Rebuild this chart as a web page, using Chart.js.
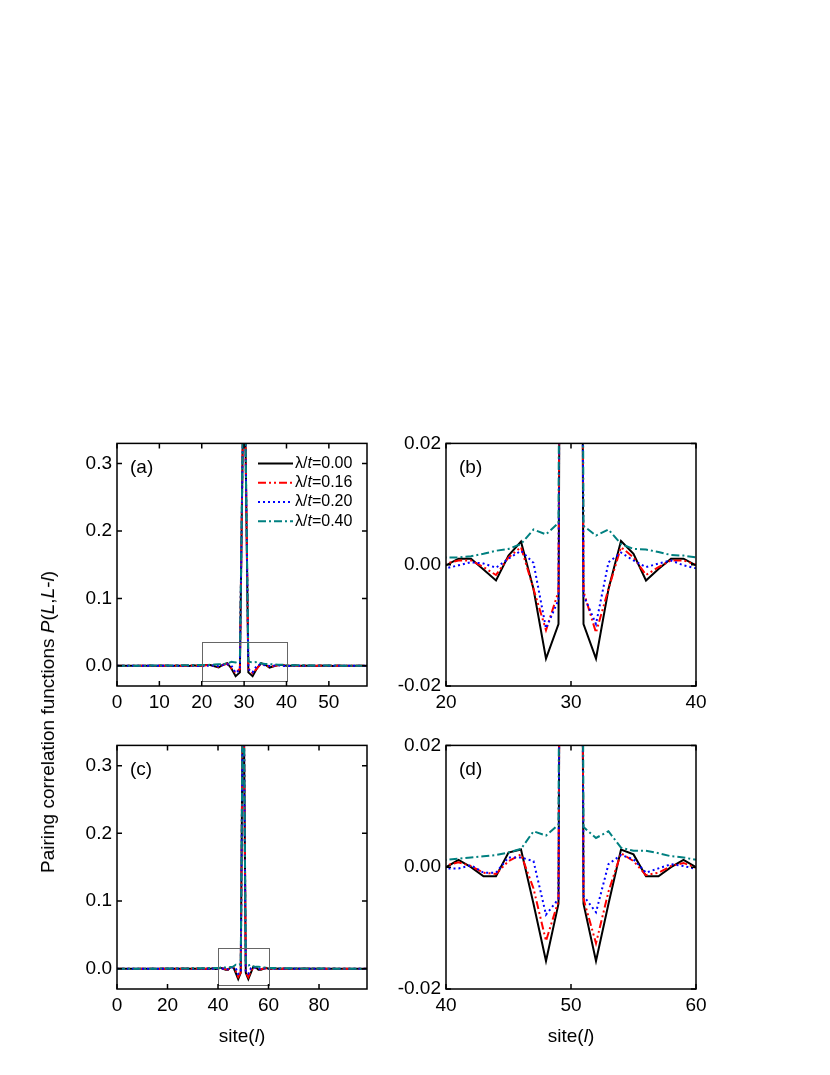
<!DOCTYPE html>
<html lang="en">
<head>
    <meta charset="UTF-8">
    <title>Pairing correlation functions</title>
    <script src="https://cdn.jsdelivr.net/npm/chart.js"></script>
    <style>
        body {
            margin: 0;
            width: 830px;
            height: 1075px;
            background: #fff;
            position: relative;
            overflow: hidden;
            font-family: "Liberation Sans", Arial, sans-serif;
            color: #000;
        }
        .panel { position: absolute; width: 340px; }
        .ytitle {
            position: absolute;
            left: 48px;
            top: 722px;
            font-size: 19px;
            white-space: nowrap;
            transform: translate(-50%, -50%) rotate(-90deg);
        }
        .xtitle {
            position: absolute;
            top: 1036px;
            font-size: 19px;
            white-space: nowrap;
            transform: translate(-50%, -50%);
        }
    </style>
</head>
<body>
    <div class="panel" style="left:47px; top:427px; height:299px;"><canvas id="chartA"></canvas></div>
    <div class="panel" style="left:376px; top:427px; height:299px;"><canvas id="chartB"></canvas></div>
    <div class="panel" style="left:47px; top:729px; height:300px;"><canvas id="chartC"></canvas></div>
    <div class="panel" style="left:376px; top:729px; height:300px;"><canvas id="chartD"></canvas></div>

    <div class="ytitle">Pairing correlation functions <i>P</i>(<i>L</i>,<i>L</i>-<i>l</i>)</div>
    <div class="xtitle" style="left:242px;">site(<i>l</i>)</div>
    <div class="xtitle" style="left:571px;">site(<i>l</i>)</div>

    <script>
        // legend labels (lambda/t values)
        const lambdas = ['0.00', '0.16', '0.20', '0.40'];

        // L = 60 chain, sites 0..59 (panels a, b)
        const black60 = [0.0002, 0.0001, 0.0002, 0.0000, 0.0002, -0.0001, 0.0002, 0.0000, 0.0003, -0.0002,
            0.0003, 0.0000, 0.0004, -0.0003, 0.0004, 0.0000, 0.0005, -0.0004, 0.0006, 0.0001,
            -0.0001, 0.0010, 0.0010, -0.0008, -0.0026, 0.0015, 0.0038, -0.0040, -0.0155, -0.0098,
            0.5, -0.0098, -0.0155, -0.0040, 0.0039, 0.0018, -0.0026, -0.0007, 0.0010, 0.0010,
            -0.0001, 0.0001, 0.0006, -0.0004, 0.0005, 0.0000, 0.0004, -0.0003, 0.0004, 0.0000,
            0.0003, -0.0002, 0.0003, 0.0000, 0.0002, -0.0001, 0.0002, 0.0000, 0.0002, 0.0001];
        const red60 = [0.0001, 0.0001, 0.0001, 0.0000, 0.0001, 0.0000, 0.0002, -0.0001, 0.0002, 0.0000,
            0.0002, -0.0001, 0.0003, -0.0001, 0.0003, 0.0000, 0.0004, -0.0002, 0.0004, 0.0002,
            0.0002, 0.0007, 0.0007, -0.0004, -0.0017, 0.0012, 0.0029, -0.0040, -0.0108, -0.0044,
            0.5, -0.0044, -0.0112, -0.0040, 0.0029, 0.0012, -0.0017, -0.0004, 0.0007, 0.0007,
            0.0000, 0.0002, 0.0004, -0.0002, 0.0004, 0.0000, 0.0003, -0.0001, 0.0003, -0.0001,
            0.0002, 0.0000, 0.0002, -0.0001, 0.0002, 0.0000, 0.0001, 0.0000, 0.0001, 0.0001];
        const blue60 = [0.0000, 0.0001, 0.0000, 0.0001, -0.0001, 0.0001, 0.0000, 0.0001, -0.0001, 0.0002,
            0.0000, 0.0002, -0.0001, 0.0002, 0.0001, 0.0001, -0.0002, 0.0003, 0.0000, -0.0003,
            -0.0006, -0.0001, 0.0004, 0.0002, -0.0005, 0.0010, 0.0023, 0.0003, -0.0105, -0.0058,
            0.5, -0.0050, -0.0098, 0.0004, 0.0020, 0.0007, -0.0004, 0.0002, 0.0007, -0.0001,
            -0.0006, -0.0003, 0.0000, 0.0003, -0.0002, 0.0001, 0.0001, 0.0002, -0.0001, 0.0002,
            0.0000, 0.0002, -0.0001, 0.0001, 0.0000, 0.0001, -0.0001, 0.0001, 0.0000, 0.0001];
        const teal60 = [0.0000, 0.0001, 0.0001, 0.0001, 0.0001, 0.0002, 0.0002, 0.0002, 0.0003, 0.0003,
            0.0003, 0.0004, 0.0004, 0.0005, 0.0005, 0.0006, 0.0007, 0.0008, 0.0009, 0.0011,
            0.0012, 0.0012, 0.0014, 0.0018, 0.0023, 0.0026, 0.0034, 0.0058, 0.0050, 0.0069,
            0.5, 0.0064, 0.0048, 0.0058, 0.0034, 0.0026, 0.0025, 0.0021, 0.0016, 0.0015,
            0.0012, 0.0011, 0.0009, 0.0008, 0.0007, 0.0006, 0.0005, 0.0005, 0.0004, 0.0004,
            0.0003, 0.0003, 0.0003, 0.0002, 0.0002, 0.0002, 0.0001, 0.0001, 0.0001, 0.0001];

        // L = 100 chain, sites 0..99 (panels c, d)
        const black100 = [0.0001, 0.0000, 0.0001, 0.0000, 0.0001, 0.0000, 0.0001, 0.0000, 0.0001, 0.0000,
            0.0001, -0.0001, 0.0001, 0.0000, 0.0002, -0.0001, 0.0001, 0.0000, 0.0002, -0.0001,
            0.0002, 0.0000, 0.0002, -0.0001, 0.0002, 0.0000, 0.0003, -0.0002, 0.0002, 0.0001,
            0.0003, -0.0002, 0.0003, 0.0000, 0.0004, -0.0003, 0.0003, 0.0001, 0.0006, -0.0004,
            0.0000, 0.0012, 0.0000, -0.0015, -0.0015, 0.0024, 0.0029, -0.0060, -0.0154, -0.0060,
            0.5, -0.0060, -0.0154, -0.0060, 0.0029, 0.0021, -0.0015, -0.0015, 0.0000, 0.0012,
            0.0000, -0.0004, 0.0006, 0.0001, 0.0003, -0.0003, 0.0004, 0.0000, 0.0003, -0.0002,
            0.0003, 0.0001, 0.0002, -0.0002, 0.0003, 0.0000, 0.0002, -0.0001, 0.0002, 0.0000,
            0.0002, -0.0001, 0.0002, 0.0000, 0.0001, -0.0001, 0.0002, 0.0000, 0.0001, -0.0001,
            0.0001, 0.0000, 0.0001, 0.0000, 0.0001, 0.0000, 0.0001, 0.0000, 0.0001, 0.0000];
        const red100 = [0.0001, 0.0000, 0.0001, 0.0000, 0.0001, 0.0000, 0.0001, 0.0000, 0.0001, 0.0000,
            0.0001, 0.0000, 0.0001, 0.0000, 0.0001, -0.0001, 0.0001, 0.0000, 0.0001, -0.0001,
            0.0002, 0.0000, 0.0002, -0.0001, 0.0002, 0.0000, 0.0002, -0.0001, 0.0002, 0.0000,
            0.0002, -0.0001, 0.0003, 0.0000, 0.0003, -0.0002, 0.0003, 0.0001, 0.0004, -0.0002,
            0.0003, 0.0008, 0.0002, -0.0009, -0.0011, 0.0010, 0.0021, -0.0035, -0.0121, -0.0055,
            0.5, -0.0052, -0.0125, -0.0040, 0.0023, 0.0010, -0.0013, -0.0009, 0.0002, 0.0007,
            -0.0001, -0.0002, 0.0004, 0.0001, 0.0003, -0.0002, 0.0003, 0.0000, 0.0003, -0.0001,
            0.0002, 0.0000, 0.0002, -0.0001, 0.0002, 0.0000, 0.0002, -0.0001, 0.0002, 0.0000,
            0.0002, -0.0001, 0.0001, 0.0000, 0.0001, -0.0001, 0.0001, 0.0000, 0.0001, 0.0000,
            0.0001, 0.0000, 0.0001, 0.0000, 0.0001, 0.0000, 0.0001, 0.0000, 0.0001, 0.0000];
        const blue100 = [0.0000, 0.0001, 0.0000, 0.0001, 0.0000, 0.0001, 0.0000, 0.0001, 0.0000, 0.0001,
            0.0000, 0.0001, -0.0001, 0.0001, 0.0000, 0.0001, -0.0001, 0.0002, 0.0000, 0.0001,
            -0.0001, 0.0002, 0.0000, 0.0002, -0.0001, 0.0002, 0.0001, 0.0001, -0.0001, 0.0002,
            0.0000, 0.0002, -0.0001, 0.0002, 0.0001, 0.0001, -0.0002, 0.0003, 0.0000, -0.0001,
            -0.0002, -0.0002, 0.0003, -0.0009, -0.0009, 0.0016, 0.0016, 0.0010, -0.0078, -0.0052,
            0.5, -0.0047, -0.0074, 0.0005, 0.0020, 0.0013, -0.0009, -0.0002, 0.0005, 0.0002,
            -0.0003, -0.0002, 0.0000, 0.0003, -0.0002, 0.0001, 0.0001, 0.0002, -0.0001, 0.0002,
            0.0000, 0.0002, -0.0001, 0.0001, 0.0001, 0.0002, -0.0001, 0.0002, 0.0000, 0.0001,
            -0.0001, 0.0001, 0.0000, 0.0001, 0.0000, 0.0001, 0.0000, 0.0001, 0.0000, 0.0001,
            0.0000, 0.0001, 0.0000, 0.0001, 0.0000, 0.0001, 0.0000, 0.0001, 0.0000, 0.0001];
        const teal100 = [0.0000, 0.0000, 0.0000, 0.0000, 0.0000, 0.0000, 0.0000, 0.0000, 0.0001, 0.0001,
            0.0001, 0.0001, 0.0001, 0.0001, 0.0001, 0.0001, 0.0001, 0.0002, 0.0002, 0.0002,
            0.0002, 0.0002, 0.0003, 0.0003, 0.0003, 0.0003, 0.0004, 0.0004, 0.0004, 0.0005,
            0.0005, 0.0006, 0.0006, 0.0007, 0.0007, 0.0008, 0.0009, 0.0010, 0.0010, 0.0011,
            0.0012, 0.0014, 0.0016, 0.0018, 0.0020, 0.0024, 0.0030, 0.0059, 0.0052, 0.0070,
            0.5, 0.0066, 0.0048, 0.0059, 0.0032, 0.0027, 0.0027, 0.0023, 0.0018, 0.0016,
            0.0012, 0.0011, 0.0010, 0.0010, 0.0009, 0.0008, 0.0007, 0.0007, 0.0006, 0.0006,
            0.0005, 0.0005, 0.0004, 0.0004, 0.0004, 0.0003, 0.0003, 0.0003, 0.0003, 0.0002,
            0.0002, 0.0002, 0.0002, 0.0002, 0.0001, 0.0001, 0.0001, 0.0001, 0.0001, 0.0001,
            0.0001, 0.0001, 0.0000, 0.0000, 0.0000, 0.0000, 0.0000, 0.0000, 0.0000, 0.0000];

        // tick values
        const yTicksFull = [0.0, 0.1, 0.2, 0.3];
        const yTicksZoom = [-0.02, 0.00, 0.02];
        const xTicksA = [0, 10, 20, 30, 40, 50];
        const xTicksB = [20, 30, 40];
        const xTicksC = [0, 20, 40, 60, 80];
        const xTicksD = [40, 50, 60];

        Chart.defaults.font.family = '"Liberation Sans", Arial, sans-serif';
        Chart.defaults.color = '#000';

        const styles = [
            { color: '#000000', dash: [] },
            { color: '#ff0000', dash: [8, 3, 2, 3, 2, 3] },
            { color: '#0000ff', dash: [2, 3] },
            { color: '#008080', dash: [8, 3, 2, 3] }
        ];

        // frame, inward ticks, inset box, panel label, legend
        const framePlugin = {
            id: 'frame',
            afterDatasetsDraw(chart, args, opts) {
                const { ctx, chartArea: a, scales } = chart;
                ctx.save();
                if (opts.box) {
                    const b = opts.box;
                    const x1 = scales.x.getPixelForValue(b.x[0]), x2 = scales.x.getPixelForValue(b.x[1]);
                    const y1 = scales.y.getPixelForValue(b.y[1]), y2 = scales.y.getPixelForValue(b.y[0]);
                    ctx.strokeStyle = '#666';
                    ctx.lineWidth = 1;
                    ctx.strokeRect(Math.round(x1) + 0.5, Math.round(y1) + 0.5, Math.round(x2 - x1), Math.round(y2 - y1));
                }
                ctx.strokeStyle = '#000';
                ctx.lineWidth = 1.5;
                ctx.strokeRect(a.left, a.top, a.right - a.left, a.bottom - a.top);
                ctx.beginPath();
                scales.x.ticks.forEach(t => {
                    const px = scales.x.getPixelForValue(t.value);
                    ctx.moveTo(px, a.bottom); ctx.lineTo(px, a.bottom - 5);
                    ctx.moveTo(px, a.top); ctx.lineTo(px, a.top + 5);
                });
                scales.y.ticks.forEach(t => {
                    const py = scales.y.getPixelForValue(t.value);
                    ctx.moveTo(a.left, py); ctx.lineTo(a.left + 5, py);
                    ctx.moveTo(a.right, py); ctx.lineTo(a.right - 5, py);
                });
                ctx.stroke();

                ctx.fillStyle = '#000';
                ctx.font = '19px "Liberation Sans", Arial, sans-serif';
                ctx.textBaseline = 'middle';
                ctx.fillText(opts.label, a.left + 13, a.top + 24);

                if (opts.legend) {
                    const x0 = a.right - 109, tx = a.right - 72;
                    lambdas.forEach((lab, i) => {
                        const y = a.top + 20 + i * 19.3;
                        ctx.strokeStyle = styles[i].color;
                        ctx.lineWidth = 2;
                        ctx.setLineDash(styles[i].dash);
                        ctx.beginPath();
                        ctx.moveTo(x0, y); ctx.lineTo(x0 + 35, y);
                        ctx.stroke();
                        ctx.setLineDash([]);
                        let x = tx;
                        ctx.font = '16px "Liberation Sans", Arial, sans-serif';
                        ctx.fillText('\u03bb/', x, y);
                        x += ctx.measureText('\u03bb/').width;
                        ctx.font = 'italic 16px "Liberation Sans", Arial, sans-serif';
                        ctx.fillText('t', x, y);
                        x += ctx.measureText('t').width;
                        ctx.font = '16px "Liberation Sans", Arial, sans-serif';
                        ctx.fillText('=' + lab, x, y);
                    });
                }
                ctx.restore();
            }
        };

        function makeChart(id, series, xMin, xMax, xTicks, yMin, yMax, yTicks, fmt, frameOpts) {
            const datasets = series.map((vals, i) => ({
                data: vals.map((v, site) => ({ x: site, y: v })),
                borderColor: styles[i].color,
                borderDash: styles[i].dash,
                borderWidth: 2,
                pointRadius: 0,
                tension: 0,
                fill: false,
                order: 4 - i
            }));
            return new Chart(document.getElementById(id), {
                type: 'line',
                data: { datasets },
                options: {
                    responsive: true,
                    maintainAspectRatio: false,
                    animation: false,
                    layout: { padding: { left: 0, top: 12, right: 20, bottom: 0 } },
                    scales: {
                        x: {
                            type: 'linear', min: xMin, max: xMax,
                            grid: { display: false, drawTicks: false },
                            border: { display: false },
                            afterBuildTicks: s => { s.ticks = xTicks.map(v => ({ value: v })); },
                            afterFit: s => { s.height = 40; },
                            ticks: { padding: 5, maxRotation: 0, font: { size: 19 }, callback: v => String(v) }
                        },
                        y: {
                            type: 'linear', min: yMin, max: yMax,
                            grid: { display: false, drawTicks: false },
                            border: { display: false },
                            afterBuildTicks: s => { s.ticks = yTicks.map(v => ({ value: v })); },
                            afterFit: s => { s.width = 70; },
                            ticks: { padding: 5, font: { size: 19 }, callback: v => v.toFixed(fmt) }
                        }
                    },
                    plugins: {
                        legend: { display: false },
                        tooltip: { enabled: false },
                        frame: frameOpts
                    }
                },
                plugins: [framePlugin]
            });
        }

        makeChart('chartA', [black60, red60, blue60, teal60], 0, 59, xTicksA, -0.03, 0.33, yTicksFull, 1,
            { label: '(a)', legend: true, box: { x: [20, 40], y: [-0.023, 0.035] } });
        makeChart('chartB', [black60, red60, blue60, teal60], 20, 40, xTicksB, -0.02, 0.02, yTicksZoom, 2,
            { label: '(b)' });
        makeChart('chartC', [black100, red100, blue100, teal100], 0, 99, xTicksC, -0.03, 0.33, yTicksFull, 1,
            { label: '(c)', box: { x: [40, 60], y: [-0.024, 0.03] } });
        makeChart('chartD', [black100, red100, blue100, teal100], 40, 60, xTicksD, -0.02, 0.02, yTicksZoom, 2,
            { label: '(d)' });
    </script>
</body>
</html>
